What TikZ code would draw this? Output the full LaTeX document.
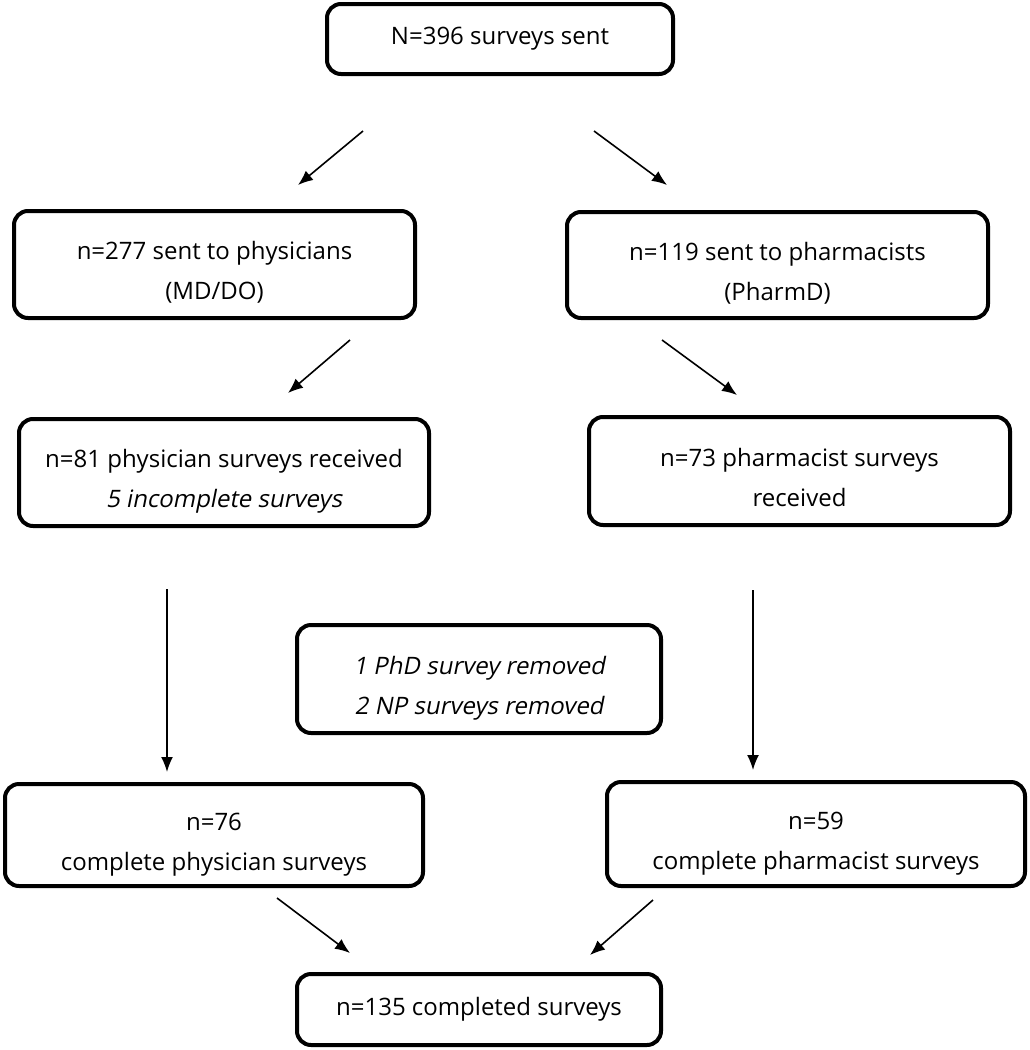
\documentclass[tikz,border=0pt]{standalone}
\usepackage{fontspec}
\setmainfont{Open Sans}
\newfontfamily\slfont[FakeSlant=0.2]{Open Sans}
\usetikzlibrary{arrows.meta}

\begin{document}
\begin{tikzpicture}[x=1pt,y=-1pt]
        \tikzstyle{every node}=[font=\fontsize{24}{40}\selectfont, align=center]
        \tikzstyle{box}=[draw, line width=4pt, rounded corners=14pt, inner sep=0pt]
        \tikzstyle{twoline}=[text height=74pt, text depth=4pt]
        \tikzstyle{arr}=[-{Latex[length=15pt,width=12pt]}, line width=1.6pt]

        \useasboundingbox (0,0) rectangle (1029,1050);

        % first row
        \node[box,minimum width=346pt,minimum height=70pt] (sent) at (500,39) {N=396 surveys sent};

        % second row
        \node[box,twoline,minimum width=401pt,minimum height=107pt] (phys_1) at (214.5,264.5) {n=277 sent to physicians\\(MD/DO)};
        \node[box,twoline,minimum width=421pt,minimum height=106pt] (pharm_1) at (777.5,265) {n=119 sent to pharmacists\\(PharmD)};

        % third row
        \node[box,twoline,minimum width=410pt,minimum height=107pt] (phys_2) at (224,472.5) {n=81 physician surveys received\\{\slfont 5 incomplete surveys}};
        \node[box,twoline,minimum width=421pt,minimum height=108pt] (pharm_2) at (799.5,471) {n=73 pharmacist surveys\\received};

        \node[box,twoline,minimum width=364pt,minimum height=108pt] (rm) at (479,679) {\slfont 1 PhD survey removed\\\slfont 2 NP surveys removed};

        % fourth row
        \node[box,twoline,minimum width=418pt,minimum height=102pt] (phys_3) at (214,835) {n=76\\complete physician surveys};
        \node[box,twoline,minimum width=418pt,minimum height=104pt] (pharm_3) at (816,834) {n=59\\complete pharmacist surveys};

        \node[box,minimum width=364pt,minimum height=71pt] (total) at (479,1009.5) {n=135 completed surveys};

        % arrows, not touching the boxes
        \foreach \n/\sx/\sy/\ex/\ey in {1/363/131/298/185, 2/594/131/667/185,
                                         3/350/340/288/393, 4/662/340/737/395,
                                         5/167/589/167/772, 6/753/590/753/770,
                                         7/277/898/350/953, 8/653/900/590/955} {
            \coordinate (a_\n_s) at (\sx,\sy);
            \coordinate (a_\n_e) at (\ex,\ey);
            \draw[arr] (a_\n_s) -- (a_\n_e);
        }

\end{tikzpicture}
\end{document}
